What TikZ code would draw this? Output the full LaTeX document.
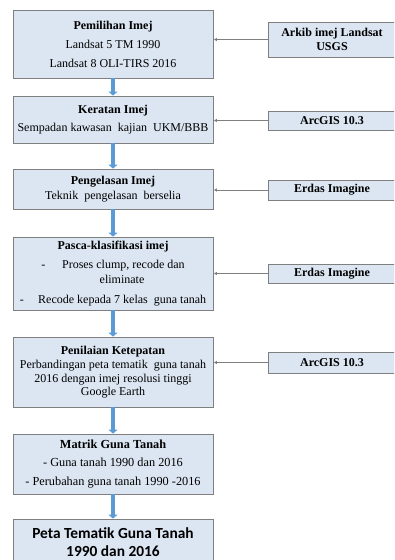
\documentclass[tikz,border=0pt]{standalone}
\usepackage{fontspec}
\setmainfont{Liberation Serif}
\newfontfamily\calibrifont{Carlito}
\usetikzlibrary{arrows.meta}
\definecolor{boxfill}{HTML}{DCE6F2}
\definecolor{boxline}{HTML}{7F7F7F}
\definecolor{flowblue}{HTML}{5B9BD5}
\tikzset{
	stagebox/.style={draw=boxline, fill=boxfill, line width=0.8pt, minimum width=200pt, inner sep=0pt, align=center, font=\fontsize{12}{17.5}\selectfont},
	toolbox/.style={draw=boxline, fill=boxfill, line width=0.8pt, minimum width=128pt, inner sep=0pt, align=center, font=\fontsize{12}{14}\selectfont\bfseries},
	flow/.style={flowblue, line width=4pt, -{Triangle[width=9pt,length=4pt]}},
	feed/.style={boxline, line width=0.7pt, -{Latex[length=3pt,width=3.5pt]}, shorten >=0.4pt}
}
\begin{document}
\begin{tikzpicture}[x=1pt, y=-1pt]
			\clip (0, 0) rectangle (394, 560);
			\node [stagebox, minimum height=68pt, font=\fontsize{12}{19}\selectfont] (pemilihan) at (113, 44) {\textbf{Pemilihan Imej}\\Landsat 5 TM 1990\\Landsat 8 OLI-TIRS 2016};
			\node [stagebox, minimum height=47pt] (keratan) at (113, 119.5) {\textbf{Keratan Imej}\\Sempadan kawasan\ \ kajian\ \ UKM/BBB};
			\node [stagebox, minimum height=40pt, font=\fontsize{12}{14.5}\selectfont] (pengelasan) at (113, 189) {\textbf{Pengelasan Imej}\\Teknik\ \ pengelasan\ \ berselia};
			\node [stagebox, minimum height=73pt, font=\fontsize{12}{15}\selectfont] (pasca) at (113, 273.5) {\textbf{Pasca-klasifikasi imej}\\[4pt]-\hspace{1.4em}Proses clump, recode dan\\\hspace{1.5em}eliminate\\[5pt]-\hspace{1.2em}Recode kepada 7 kelas\ \ guna tanah};
			\node [stagebox, minimum height=70pt, font=\fontsize{12}{13.5}\selectfont] (penilaian) at (113, 372) {\textbf{Penilaian Ketepatan}\\[1pt]Perbandingan peta tematik\ \ guna tanah\\2016 dengan imej resolusi tinggi\\Google Earth};
			\node [stagebox, minimum height=60pt, font=\fontsize{12.3}{18.5}\selectfont] (matrik) at (113, 464) {\textbf{Matrik Guna Tanah}\\- Guna tanah 1990 dan 2016\\- Perubahan guna tanah 1990 -2016};
			\node [stagebox, minimum height=46pt, font=\fontsize{15.4}{18.5}\selectfont\calibrifont\bfseries] (peta) at (113, 542) {Peta Tematik Guna Tanah\\1990 dan 2016};
			\node [toolbox, minimum height=35pt] (arkib) at (332, 39.5) {Arkib imej Landsat\\USGS};
			\node [toolbox, minimum height=19pt] (arcgisa) at (332, 120.5) {ArcGIS 10.3};
			\node [toolbox, minimum height=20pt] (erdasa) at (332, 190) {Erdas Imagine};
			\node [toolbox, minimum height=19pt] (erdasb) at (332, 273.5) {Erdas Imagine};
			\node [toolbox, minimum height=21pt] (arcgisb) at (332, 362.5) {ArcGIS 10.3};
			\draw [flow] (pemilihan.south) -- (keratan.north);
			\draw [flow] (keratan.south) -- (pengelasan.north);
			\draw [flow] (pengelasan.south) -- (pasca.north);
			\draw [flow] (pasca.south) -- (penilaian.north);
			\draw [flow] (penilaian.south) -- (matrik.north);
			\draw [flow] (matrik.south) -- (peta.north);
			\draw [feed] (arkib.west) -- (arkib.west -| pemilihan.east);
			\draw [feed] (arcgisa.west) -- (arcgisa.west -| keratan.east);
			\draw [feed] (erdasa.west) -- (erdasa.west -| pengelasan.east);
			\draw [feed] (erdasb.west) -- (erdasb.west -| pasca.east);
			\draw [feed] (arcgisb.west) -- (arcgisb.west -| penilaian.east);
		\end{tikzpicture}
\end{document}
